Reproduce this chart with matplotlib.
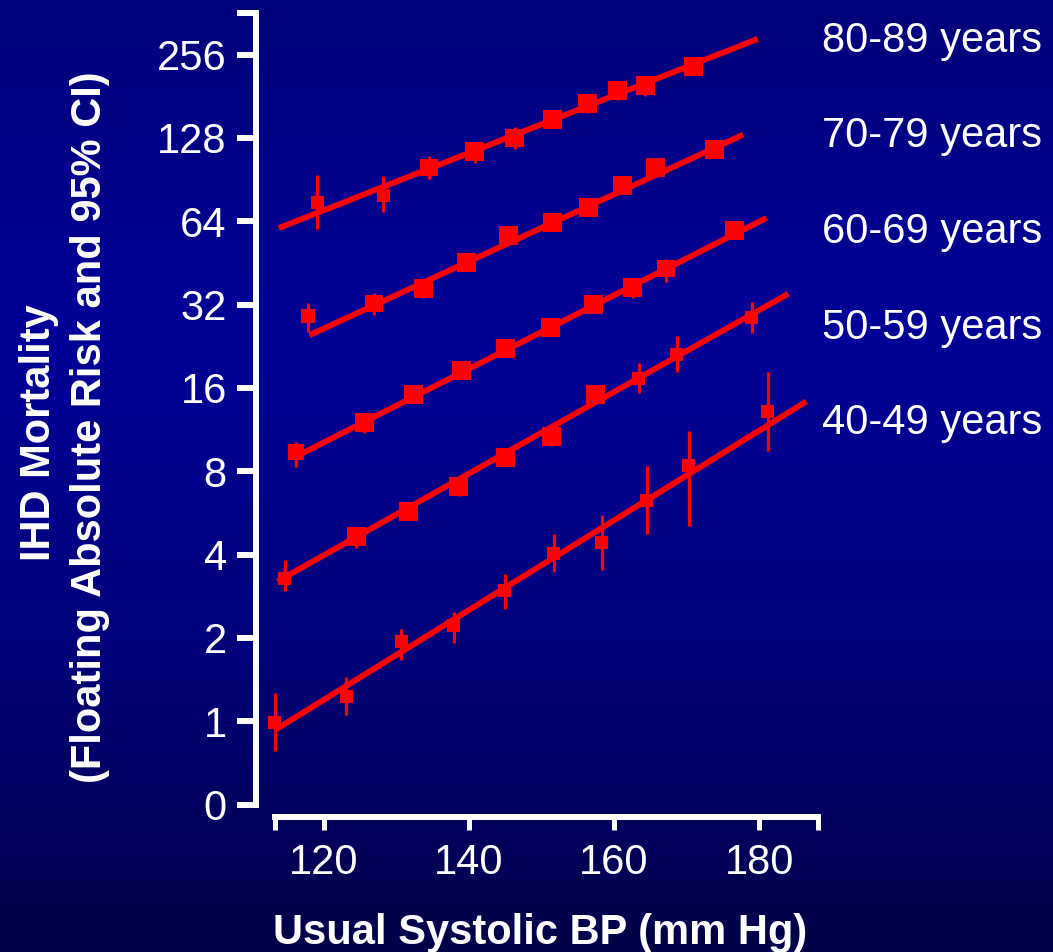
import numpy as np
import matplotlib
matplotlib.use('Agg')
import matplotlib.pyplot as plt
from matplotlib.ticker import NullLocator

plt.rcParams['font.family'] = ['Liberation Sans', 'DejaVu Sans']

# Usual systolic BP (mm Hg) and IHD mortality (floating absolute risk, 95% CI) per age band
age_labels = ['80-89 years', '70-79 years', '60-69 years', '50-59 years', '40-49 years']

bp_80 = [119.1, 128.2, 134.5, 140.8, 146.3, 151.5, 156.3, 160.5, 164.3, 171.0]
risk_80 = [75, 79, 100, 114, 128, 149, 170, 190, 198, 232]
lo_80 = [60, 69, 91, 104, 117, 141, 157, 176, 181, 222]
hi_80 = [94, 93, 110, 124, 140, 157, 184, 206, 215, 243]

bp_70 = [117.8, 126.9, 133.7, 139.6, 145.4, 151.5, 156.5, 161.2, 165.7, 173.8]
risk_70 = [29.1, 32.3, 36.6, 45.3, 57.0, 63.3, 72.0, 86.0, 100.5, 116.0]
lo_70 = [25.5, 29.3, 33.9, 42.5, 54.5, 60.8, 69.0, 82.5, 96.5, 111.5]
hi_70 = [32.3, 35.3, 39.2, 48.0, 59.5, 66.0, 75.0, 89.5, 104.5, 120.5]

bp_60 = [116.2, 125.6, 132.4, 139.0, 145.0, 151.2, 157.1, 162.6, 167.2, 176.6]
risk_60 = [9.38, 12.0, 15.1, 18.5, 22.3, 26.5, 32.1, 36.9, 43.2, 59.4]
lo_60 = [8.3, 11.0, 14.4, 17.7, 21.4, 25.4, 30.9, 33.7, 38.7, 57.0]
hi_60 = [10.2, 13.0, 15.8, 19.3, 23.2, 27.6, 33.3, 39.2, 46.6, 61.9]

bp_50 = [114.6, 124.5, 131.7, 138.6, 145.0, 151.4, 157.5, 163.4, 168.6, 179.0]
risk_50 = [3.29, 4.64, 5.73, 7.02, 8.98, 10.7, 15.1, 17.3, 21.1, 28.8]
lo_50 = [2.95, 4.23, 5.40, 6.53, 8.38, 9.9, 14.5, 15.3, 18.2, 25.2]
hi_50 = [3.81, 4.95, 6.10, 7.45, 9.62, 11.6, 16.4, 19.7, 24.6, 32.6]

bp_40 = [113.2, 123.1, 130.7, 137.9, 144.9, 151.7, 158.3, 164.5, 170.3, 181.2]
risk_40 = [0.99, 1.23, 1.94, 2.22, 2.97, 4.03, 4.41, 6.28, 8.40, 13.1]
lo_40 = [0.78, 1.05, 1.67, 1.91, 2.55, 3.45, 3.53, 4.76, 5.06, 9.5]
hi_40 = [1.26, 1.45, 2.16, 2.47, 3.39, 4.76, 5.58, 8.38, 11.2, 18.2]

# fitted lines: start/end BP and risk
fit_bp = [(113.8, 179.8), (118.0, 177.8), (115.8, 181.0), (113.6, 184.0), (113.2, 186.5)]
fit_risk = [(60.5, 292.0), (24.8, 131.6), (8.94, 65.8), (3.20, 35.0), (0.927, 14.3)]

y_ticks = [0.5, 1, 2, 4, 8, 16, 32, 64, 128, 256, 2 ** 8.5]
y_ticklabels = ['0', '1', '2', '4', '8', '16', '32', '64', '128', '256', '']
x_min, x_max = 113.2, 188.1
x_ticks = [x_min, 120, 140, 160, 180, x_max]
x_ticklabels = ['', '120', '140', '160', '180', '']

groups = [
    (bp_80, risk_80, lo_80, hi_80),
    (bp_70, risk_70, lo_70, hi_70),
    (bp_60, risk_60, lo_60, hi_60),
    (bp_50, risk_50, lo_50, hi_50),
    (bp_40, risk_40, lo_40, hi_40),
]

W, H = 1053, 952
RED = '#ff0000'
fig = plt.figure(figsize=(W / 100, H / 100), dpi=100)

# dark blue vertical gradient background
bg = fig.add_axes([0, 0, 1, 1], zorder=0)
pos = np.linspace(0, 1, 256)
blue = np.interp(pos, [0, 0.35, 0.7, 1.0], [0x7a, 0x98, 0x78, 0x48]) / 255
grad = np.zeros((256, 1, 3))
grad[:, 0, 2] = blue
bg.imshow(grad, aspect='auto', extent=[0, 1, 0, 1], origin='upper')
bg.axis('off')

ax = fig.add_axes([274.5 / W, (H - 804.5) / H, (818 - 274.5) / W, (804.5 - 13) / H], zorder=1)
ax.patch.set_visible(False)

for (bp, risk, lo, hi), (fx, fy) in zip(groups, zip(fit_bp, fit_risk)):
    bp = np.array(bp); risk = np.array(risk); lo = np.array(lo); hi = np.array(hi)
    ax.plot(fx, fy, color=RED, lw=4.2, solid_capstyle='butt', zorder=2, clip_on=False)
    eb = ax.errorbar(bp, risk, yerr=[risk - lo, hi - risk], fmt='none', ecolor=RED,
                     elinewidth=2.3, capsize=0, zorder=3)
    for c in eb.lines[2]:
        c.set_clip_on(False)
    # bigger squares for tighter intervals
    half_w = (np.log2(hi) - np.log2(lo)) / 2
    side_px = np.clip(2.4 / half_w, 13, 19)
    ax.scatter(bp, risk, s=(side_px * 0.72) ** 2, marker='s', color=RED,
               linewidths=0, zorder=4, clip_on=False)

ax.set_yscale('log', base=2)
ax.set_ylim(0.5, 2 ** 8.5)
ax.set_yticks(y_ticks)
ax.set_yticklabels(y_ticklabels)
ax.yaxis.set_minor_locator(NullLocator())
ax.set_xlim(x_min, x_max)
ax.set_xticks(x_ticks)
ax.set_xticklabels(x_ticklabels)

for side in ['top', 'right']:
    ax.spines[side].set_visible(False)
for side in ['left', 'bottom']:
    ax.spines[side].set_color('white')
    ax.spines[side].set_linewidth(4.3)
ax.spines['left'].set_position(('outward', 13.3))
ax.spines['bottom'].set_position(('outward', 9))

ax.tick_params(axis='y', colors='white', length=14, width=4.3, pad=7, labelsize=30)
ax.tick_params(axis='x', colors='white', length=9.4, width=3.6, pad=9, labelsize=30)

def fpos(px, py):
    return px / W, 1 - py / H

# age band labels on the right
for i, label in enumerate(age_labels):
    fig.text(*fpos(822, 52 + 95.5 * i), label, color='white', fontsize=30,
             ha='left', va='baseline')

fig.text(*fpos(540, 944), 'Usual Systolic BP (mm Hg)', color='white', fontsize=30,
         fontweight='bold', ha='center', va='baseline')
fig.text(*fpos(50, 433), 'IHD Mortality', color='white', fontsize=30, fontweight='bold',
         rotation=90, rotation_mode='anchor', ha='center', va='baseline')
fig.text(*fpos(101, 427), '(Floating Absolute Risk and 95% CI)', color='white', fontsize=30,
         fontweight='bold', rotation=90, rotation_mode='anchor', ha='center', va='baseline')

fig.savefig('out.png', dpi=100)
